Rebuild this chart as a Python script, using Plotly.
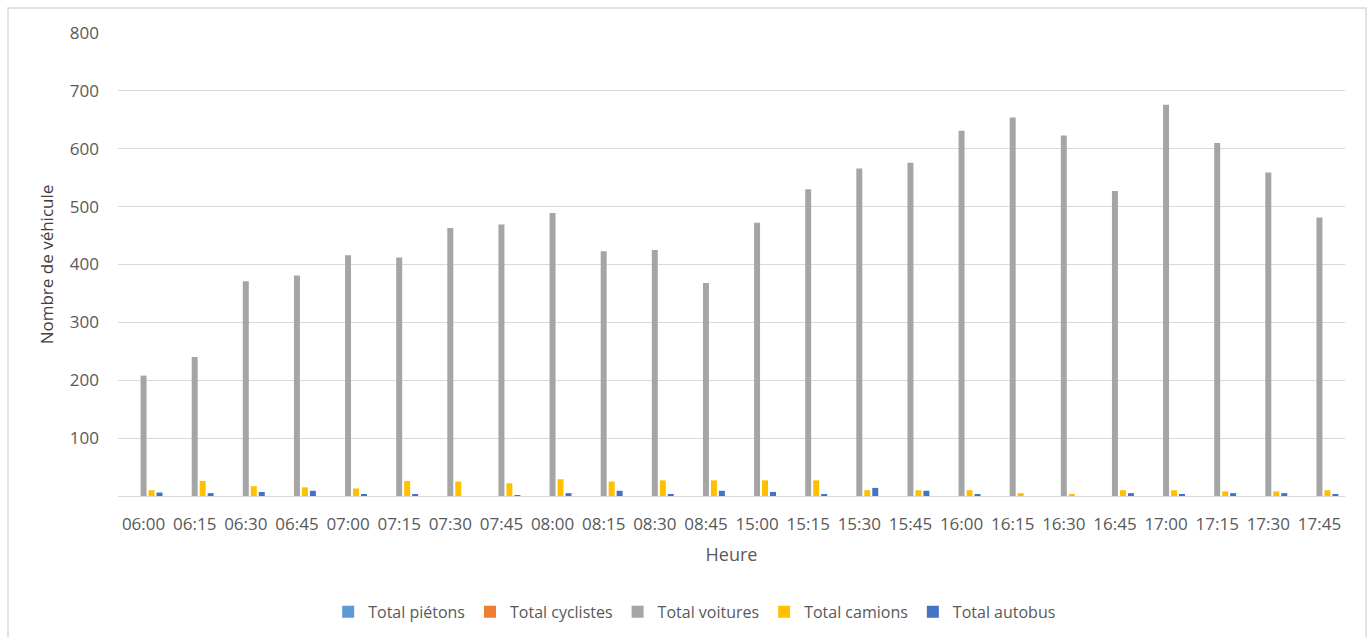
import plotly.graph_objects as go

heures = ["06:00", "06:15", "06:30", "06:45", "07:00", "07:15", "07:30", "07:45",
          "08:00", "08:15", "08:30", "08:45", "15:00", "15:15", "15:30", "15:45",
          "16:00", "16:15", "16:30", "16:45", "17:00", "17:15", "17:30", "17:45"]

pietons = [0] * 24
cyclistes = [0] * 24
voitures = [208, 240, 371, 381, 416, 412, 463, 469, 489, 423, 425, 368,
            472, 530, 566, 576, 631, 654, 623, 527, 676, 610, 559, 481]
camions = [10, 26, 17, 15, 13, 26, 25, 22, 29, 25, 27, 27,
           27, 27, 10, 10, 10, 5, 3, 10, 10, 8, 8, 10]
autobus = [6, 5, 7, 9, 3, 2, 0, 1, 5, 9, 2, 9,
           7, 2, 14, 9, 2, 0, 0, 5, 2, 5, 5, 2]

series = [
    ("Total piétons", pietons, "#5B9BD5"),
    ("Total cyclistes", cyclistes, "#ED7D31"),
    ("Total voitures", voitures, "#A5A5A5"),
    ("Total camions", camions, "#FFC000"),
    ("Total autobus", autobus, "#4472C4"),
]

fig = go.Figure()
for name, vals, color in series:
    fig.add_trace(go.Bar(x=heures, y=vals, name=name, marker_color=color,
                         marker_line_width=0))

txt = "#595959"
fnt = "'Open Sans', Lato, sans-serif"
fig.update_layout(
    width=1369, height=637,
    margin=dict(l=118, r=24, t=33, b=141, autoexpand=False),
    paper_bgcolor="white", plot_bgcolor="white",
    font=dict(family=fnt, size=16, color=txt),
    barmode="group", bargap=0.22, bargroupgap=0.25,
    legend=dict(orientation="h", x=0.47, xanchor="center", y=-0.25, yanchor="middle",
                font=dict(size=16, color=txt), itemwidth=30, traceorder="normal"),
    xaxis=dict(title=dict(text="Heure", font=dict(size=18, color=txt), standoff=14),
               tickfont=dict(size=17, color=txt), showgrid=False, automargin=False,
               showline=False, ticks="", ticklabelstandoff=16),
    yaxis=dict(title=dict(text="Nombre de véhicule", font=dict(size=17, color="#404040"),
                          standoff=11),
               range=[0, 800], tickvals=[100, 200, 300, 400, 500, 600, 700, 800],
               tickfont=dict(size=17, color=txt), showgrid=True, automargin=False,
               gridcolor="#D9D9D9", gridwidth=1, zeroline=True,
               zerolinecolor="#D9D9D9", zerolinewidth=1, ticks="",
               ticklabelstandoff=18),
    shapes=[dict(type="rect", xref="paper", yref="paper",
                 x0=(8 - 118) / 1227, x1=(1366 - 118) / 1227,
                 y0=(496 - 640) / 463, y1=(496 - 8) / 463,
                 line=dict(color="#D9D9D9", width=1.5), fillcolor="rgba(0,0,0,0)",
                 layer="below")],
)

fig.write_html("out.html")
